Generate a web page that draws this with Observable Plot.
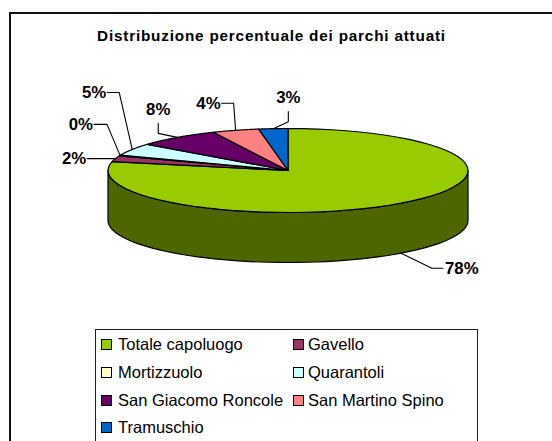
<!DOCTYPE html>
<html>
<head>
<meta charset="utf-8">
<script src="https://cdn.jsdelivr.net/npm/d3@7"></script>
<script src="https://cdn.jsdelivr.net/npm/@observablehq/plot@0.6"></script>
<style>
  html, body { margin: 0; padding: 0; background: #fff; }
  #page { position: relative; width: 552px; height: 441px; overflow: hidden; font-family: "Liberation Sans", Arial, sans-serif; }
  #frame { position: absolute; left: 9px; top: 12px; width: 560px; height: 460px; border-left: 2px solid #111; border-top: 2px solid #111; box-sizing: border-box; }
  #title { position: absolute; left: 0; width: 543px; top: 27px; text-align: center; font-weight: bold; font-size: 15.3px; letter-spacing: 0.8px; line-height: 18px; color: #000; white-space: nowrap; }
  #chart { position: absolute; left: 0; top: 0; }
  #legend { position: absolute; left: 95px; top: 329px; width: 383px; height: 130px; box-sizing: border-box; border: 1.5px solid #222; background: #fff; padding-top: 1px; display: grid; grid-template-columns: 191.5px auto; grid-auto-rows: 27.7px; font-size: 16.5px; color: #000; }
  #legend .item { display: flex; align-items: center; padding-left: 5px; }
  #legend .sw { width: 9px; height: 9px; border: 1px solid #000; margin-right: 6px; flex: none; }
  #legend .item:nth-child(even) .sw { margin-right: 4.5px; }
</style>
</head>
<body>
<div id="page"><div id="frame"></div><div id="chart"></div><div id="title"></div><div id="legend"></div></div>
<script>
const chartTitle = "Distribuzione percentuale dei parchi attuati";
const categories = ["Totale capoluogo", "Gavello", "Mortizzuolo", "Quarantoli", "San Giacomo Roncole", "San Martino Spino", "Tramuschio"];
const shares = [78.4, 2.3, 0.3, 4.7, 7.5, 4.2, 2.6];
const colors = ["#99cc00", "#993366", "#ffffcc", "#ccffff", "#660066", "#ff8080", "#0066cc"];
const wallColor = "#4d6600";

// Pie geometry in pixels, turned into unit-pie scale domains below.
const W = 552, H = 441, cx = 287.5, cy = 170, rx = 180, ry = 42, depth = 50;
const xDomain = [-cx / rx, (W - cx) / rx];
const yDomain = [-cy / ry, (H - cy) / ry];
const tilt = depth / ry;

// Leader offsets from each slice's rim point: [elbowDx, elbowDy, endDx, endDy, textAnchor, labelDx, labelDy]
const leaderOffsets = [
  [31, 15, 42, 15, "start", 2, 0],
  [-28, 0, -28, 0, "end", -1, 0],
  [-13, -31, -26, -31, "end", -1, 0],
  [-13, -57, -25, -57, "end", -1, 0],
  [-19, -4, -19, -14, "middle", 0, -14],
  [-2, -27, -14, -27, "end", -1, 0],
  [15, -7, 15, -17, "middle", 0, -14]
];

const TAU = 2 * Math.PI;
const total = d3.sum(shares);
const rim = (a, z = 0) => ({ x: Math.sin(a), y: -Math.cos(a) + z * tilt });
const arc = (a0, a1) => d3.range(0, 61).map(i => a0 + (a1 - a0) * i / 60);

let cum = 0;
const slices = categories.map((name, i) => {
  const a0 = cum / total * TAU; cum += shares[i];
  const a1 = cum / total * TAU;
  return { name, i, a0, a1, mid: (a0 + a1) / 2, color: colors[i], share: shares[i] };
});

const facePts = slices.flatMap(s => [{ x: 0, y: 0 }, ...arc(s.a0, s.a1).map(a => rim(a))].map(p => ({ ...p, name: s.name, color: s.color })));
const wallArc = arc(Math.PI / 2, 3 * Math.PI / 2);
const wallPts = [...wallArc.map(a => rim(a)), ...wallArc.slice().reverse().map(a => rim(a, 1))];

const dxU = d => d / rx, dyU = d => d / ry;
const leaderPts = [], labels = [];
slices.forEach((s, i) => {
  const isFront = Math.cos(s.mid) < 0 && Math.abs(Math.sin(s.mid)) < 0.95;
  const p = rim(s.mid, isFront ? 1 : 0);
  const [ex, ey, fx, fy, anchor, lx, ly] = leaderOffsets[i];
  const e = { x: p.x + dxU(ex), y: p.y + dyU(ey) }, f = { x: p.x + dxU(fx), y: p.y + dyU(fy) };
  [p, e, f].forEach(q => leaderPts.push({ ...q, name: s.name }));
  labels.push({ x: f.x + dxU(lx), y: f.y + dyU(ly), text: d3.format(".0f")(s.share) + "%", anchor });
});

const labelMark = anchor => Plot.text(labels.filter(d => d.anchor === anchor), {
  x: "x", y: "y", text: "text", textAnchor: anchor, fontWeight: "bold", fontSize: 16.8, fill: "#000"
});

const plot = Plot.plot({
  width: W, height: H, margin: 0,
  style: { background: "transparent", fontFamily: "'Liberation Sans', Arial, sans-serif" },
  x: { domain: xDomain, range: [0, W], axis: null },
  y: { domain: yDomain, range: [0, H], axis: null },
  marks: [
    Plot.line(wallPts, { x: "x", y: "y", fill: wallColor, stroke: "#000", strokeWidth: 1.2, curve: "linear-closed" }),
    Plot.line(facePts, { x: "x", y: "y", z: "name", fill: "color", stroke: "#000", strokeWidth: 1.2, curve: "linear-closed" }),
    Plot.line(leaderPts, { x: "x", y: "y", z: "name", stroke: "#000", strokeWidth: 1.1 }),
    labelMark("start"), labelMark("middle"), labelMark("end")
  ]
});
document.getElementById("chart").appendChild(plot);
document.getElementById("title").textContent = chartTitle;
const legend = document.getElementById("legend");
slices.forEach(s => {
  const it = document.createElement("div"); it.className = "item";
  const sw = document.createElement("span"); sw.className = "sw"; sw.style.background = s.color;
  const t = document.createElement("span"); t.textContent = s.name;
  it.append(sw, t); legend.appendChild(it);
});
</script>
</body>
</html>
